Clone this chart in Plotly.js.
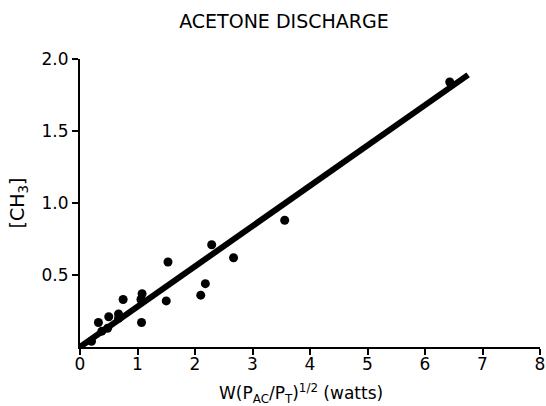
<!DOCTYPE html>
<html>
<head>
<meta charset="utf-8">
<script src="https://cdn.plot.ly/plotly-3.0.1.min.js"></script>
<style>html,body{margin:0;padding:0;background:#fff;}#chart{width:546px;height:406px;}</style>
</head>
<body>
<div id="chart"></div>
<script>
// Measured points: W(P_AC/P_T)^1/2 (watts) vs [CH3]
const powerX = [0.20, 0.32, 0.38, 0.50, 0.48, 0.67, 0.67, 0.75, 1.06, 1.08, 1.07, 1.53, 1.50, 2.10, 2.18, 2.29, 2.67, 3.56, 6.43];
const ch3Y   = [0.04, 0.17, 0.11, 0.21, 0.13, 0.23, 0.20, 0.33, 0.33, 0.37, 0.17, 0.59, 0.32, 0.36, 0.44, 0.71, 0.62, 0.88, 1.84];
// Fitted straight line endpoints
const fitX = [0, 6.75];
const fitY = [0, 1.89];
const xTicks = [0, 1, 2, 3, 4, 5, 6, 7, 8];
const xTickText = ['0', '1', '2', '3', '4', '5', '6', '7', '8'];
const yTicks = [0.5, 1.0, 1.5, 2.0];
const yTickText = ['0.5', '1.0', '1.5', '2.0'];
const xTitle = 'W(P<sub>AC</sub>/P<sub>T</sub>)<sup>1/2</sup> (watts)';

const font = 'DejaVu Sans, sans-serif';

const traces = [
  {x: fitX, y: fitY, mode: 'lines', line: {color: '#000', width: 6}, hoverinfo: 'skip', cliponaxis: false},
  {x: powerX, y: ch3Y, mode: 'markers', marker: {color: '#000', size: 9}, cliponaxis: false}
];

const layout = {
  width: 546, height: 406,
  margin: {l: 80, r: 6, t: 59, b: 59},
  paper_bgcolor: '#fff', plot_bgcolor: '#fff',
  showlegend: false,
  font: {family: font, color: '#000', size: 16},
  title: {text: 'ACETONE DISCHARGE', x: 0.52, xanchor: 'center', y: 0.947, yanchor: 'middle',
          font: {family: font, size: 19, color: '#000'}},
  xaxis: {
    range: [0, 8], showgrid: false, zeroline: false,
    showline: true, linecolor: '#000', linewidth: 2,
    ticks: 'outside', ticklen: 6, tickwidth: 2, tickcolor: '#000',
    ticklabelstandoff: -5,
    tickvals: xTicks, ticktext: xTickText,
    tickfont: {family: font, size: 17, color: '#000'}
  },
  yaxis: {
    range: [0, 2], showgrid: false, zeroline: false,
    showline: true, linecolor: '#000', linewidth: 2,
    ticks: 'outside', ticklen: 6, tickwidth: 2, tickcolor: '#000',
    tickvals: yTicks, ticktext: yTickText,
    tickfont: {family: font, size: 17, color: '#000'},
    title: {text: '[CH<sub>3</sub>]', standoff: 12,
            font: {family: font, size: 19, color: '#000'}}
  },
  annotations: [{
    text: xTitle, xref: 'paper', yref: 'paper', x: 0.48, y: -0.162,
    xanchor: 'center', yanchor: 'middle', showarrow: false,
    font: {family: font, size: 17, color: '#000'}
  }]
};

Plotly.newPlot('chart', traces, layout, {displayModeBar: false, staticPlot: true});
</script>
</body>
</html>
